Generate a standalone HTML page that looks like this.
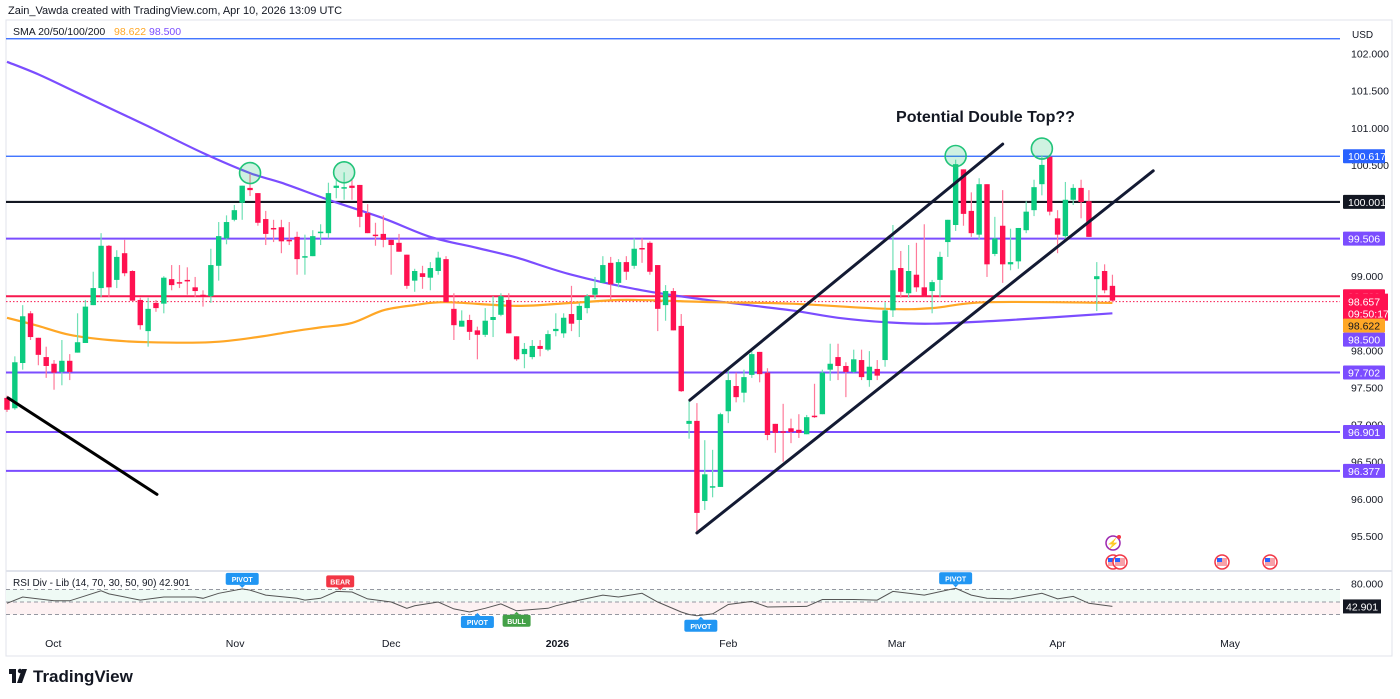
<!DOCTYPE html>
<html><head><meta charset="utf-8">
<style>
html,body{margin:0;padding:0;background:#fff;}
body{width:1400px;height:699px;overflow:hidden;position:relative;font-family:"Liberation Sans",sans-serif;}
svg{position:absolute;left:0;top:0;}
</style></head>
<body>
<svg id="chart" width="1400" height="699" xmlns="http://www.w3.org/2000/svg" font-family="Liberation Sans, sans-serif">
  <rect x="6" y="20" width="1386" height="636" fill="#fff" stroke="#e0e3eb" stroke-width="1"/>
  <line x1="6" y1="571" x2="1392" y2="571" stroke="#e0e3eb" stroke-width="2"/>
  <text x="8" y="14" font-size="11" fill="#131722">Zain_Vawda created with TradingView.com, Apr 10, 2026 13:09 UTC</text>
  <g font-size="10.5">
    <text x="13" y="35" fill="#131722">SMA 20/50/100/200</text>
    <text x="114" y="35" fill="#ffa726">98.622</text>
    <text x="149" y="35" fill="#7b4dff">98.500</text>
  </g>
  <text x="1352" y="38" font-size="10" fill="#131722">USD</text>
  <g id="rsiBg"></g>
  <g id="hlines"></g>
  <g id="smas"></g>
  <g id="candles"></g>
  <g id="drawings"></g>
  <g id="axis"></g>
  <g id="rsi"></g>
  <text x="896" y="122" font-size="16" fill="#131722" font-weight="bold" textLength="179" lengthAdjust="spacingAndGlyphs">Potential Double Top??</text>
  <g>
    <rect x="9" y="669" width="7" height="5" fill="#131722"/><rect x="12" y="669" width="4" height="14" fill="#131722"/>
    <circle cx="20" cy="671" r="2.2" fill="#131722"/><polygon points="22,669 27,669 22,683 17,683" fill="#131722"/>
    <text x="33" y="682" font-size="17" fill="#131722" font-weight="bold">TradingView</text>
  </g>
</svg>
<script>
const opens=[97.36,97.22,97.83,98.50,98.17,97.91,97.82,97.71,97.86,97.97,98.10,98.61,98.84,99.41,98.95,99.31,99.07,98.68,98.26,98.64,98.63,98.96,98.92,98.95,98.85,98.75,98.73,99.14,99.51,99.76,99.99,100.19,100.12,99.77,99.65,99.66,99.49,99.53,99.26,99.27,99.58,99.58,100.19,100.18,100.22,100.23,99.85,99.56,99.57,99.49,99.45,99.29,98.94,99.04,98.98,99.07,99.23,98.56,98.32,98.41,98.27,98.21,98.41,98.48,98.68,98.19,97.95,97.91,98.06,98.01,98.26,98.23,98.49,98.41,98.57,98.75,98.91,99.18,98.91,99.19,99.14,99.38,99.45,99.15,98.61,98.80,98.33,97.01,97.05,95.97,96.16,96.16,97.18,97.52,97.43,97.67,97.98,97.70,97.01,96.91,96.95,96.93,96.87,97.12,97.14,97.74,97.91,97.79,97.71,97.87,97.60,97.75,97.87,98.54,99.11,98.77,99.02,98.85,98.80,98.95,99.46,99.69,100.44,99.88,99.56,100.24,99.30,99.68,99.16,99.20,99.62,99.89,100.24,100.61,99.78,99.54,100.03,100.19,100.01,98.96,99.07,98.87];
const highs=[97.39,97.92,98.61,98.53,98.17,98.05,97.87,98.14,97.95,98.50,98.68,99.06,99.58,99.42,99.35,99.49,99.08,98.71,98.71,98.68,99.00,99.15,99.15,99.12,98.99,98.81,99.37,99.73,99.82,99.96,100.22,100.38,100.12,99.88,99.76,99.76,99.73,99.60,99.56,99.62,99.70,100.26,100.32,100.40,100.30,100.23,99.97,99.72,99.82,99.49,99.57,99.29,99.10,99.14,99.19,99.33,99.27,98.77,98.54,98.48,98.32,98.57,98.73,98.77,98.77,98.19,98.10,98.14,98.14,98.27,98.50,98.50,98.87,98.64,98.76,98.99,99.27,99.26,99.23,99.27,99.51,99.51,99.47,99.15,98.88,98.84,98.49,97.32,97.29,96.79,96.66,97.16,97.74,97.70,97.74,97.99,97.98,97.76,97.01,97.28,97.08,97.14,97.13,97.55,97.74,98.09,98.09,97.84,98.01,98.01,97.99,97.87,98.65,99.69,99.34,99.42,99.45,99.70,98.95,99.33,99.76,100.57,100.44,100.13,100.32,100.24,99.80,100.16,99.64,99.65,100.01,100.30,100.63,100.63,99.89,100.27,100.24,100.30,100.16,99.19,99.16,99.02];
const lows=[97.17,97.20,97.74,98.14,97.80,97.63,97.47,97.53,97.60,97.97,98.10,98.61,98.72,98.72,98.84,99.00,98.67,98.28,98.05,98.52,98.50,98.81,98.84,98.75,98.72,98.59,98.64,98.94,99.43,99.74,99.76,100.08,99.68,99.42,99.46,99.31,99.42,99.02,99.02,99.27,99.42,99.51,100.05,100.03,100.03,99.66,99.58,99.41,99.39,99.02,99.33,98.83,98.79,98.83,98.81,99.02,98.65,98.14,98.32,98.14,97.88,98.18,98.18,98.46,98.23,97.86,97.76,97.88,97.92,97.99,98.19,98.17,98.26,98.18,98.50,98.69,98.91,98.68,98.85,98.95,99.10,99.18,99.02,98.26,98.40,98.27,97.44,96.81,95.54,95.85,96.02,96.16,97.02,97.30,97.30,97.63,97.57,96.79,96.62,96.50,96.75,96.82,96.87,97.09,97.14,97.59,97.60,97.37,97.70,97.60,97.51,97.60,97.78,98.45,98.71,98.71,98.79,98.73,98.50,98.72,99.26,99.61,99.68,99.53,99.49,98.99,99.27,98.91,99.08,99.10,99.58,99.81,100.09,99.82,99.31,99.49,99.96,99.78,99.53,98.53,98.77,98.65];
const closes=[97.20,97.84,98.46,98.18,97.94,97.79,97.70,97.86,97.71,98.11,98.59,98.84,99.41,98.85,99.26,99.04,98.67,98.34,98.56,98.57,98.98,98.88,98.91,98.94,98.80,98.72,99.15,99.54,99.73,99.89,100.22,100.16,99.72,99.57,99.64,99.47,99.47,99.23,99.27,99.54,99.60,100.12,100.22,100.20,100.19,99.80,99.58,99.54,99.49,99.42,99.33,98.87,99.07,98.99,99.11,99.25,98.65,98.34,98.40,98.25,98.21,98.40,98.45,98.73,98.23,97.88,98.02,98.06,98.02,98.22,98.29,98.44,98.36,98.60,98.73,98.84,99.15,98.89,99.19,99.06,99.37,99.37,99.06,98.56,98.80,98.27,97.45,97.05,95.81,96.33,96.17,97.14,97.60,97.37,97.64,97.95,97.68,96.86,96.89,96.90,96.90,96.89,97.10,97.10,97.70,97.82,97.79,97.71,97.88,97.64,97.78,97.66,98.54,99.08,98.79,99.07,98.85,98.73,98.92,99.26,99.76,100.51,99.84,99.58,100.24,99.16,99.51,99.16,99.19,99.65,99.87,100.20,100.50,99.87,99.56,100.03,100.19,100.00,99.53,99.00,98.81,98.67];

const sma200Idx=[0,4,9,14,18,25,31,35,41,48,54,60,65,72,81,90,100,106,112,118,128,141];
const sma200Val=[101.89,101.72,101.47,101.22,101.02,100.66,100.39,100.26,100.03,99.78,99.53,99.38,99.25,99.02,98.81,98.67,98.54,98.44,98.38,98.36,98.41,98.50];
const sma100Idx=[0,4,8,13,18,26,32,36,40,44,48,52,56,65,72,79,90,100,112,118,125,141];
const sma100Val=[98.44,98.33,98.21,98.14,98.11,98.11,98.18,98.25,98.31,98.37,98.54,98.61,98.65,98.60,98.64,98.68,98.65,98.63,98.56,98.57,98.65,98.64];

const rsiIdx=[0,2,6,8,10,12,13,17,20,24,25,27,30,31,33,37,38,40,42,44,46,49,51,52,55,57,59,61,63,65,69,70,73,76,78,81,83,86,87,88,90,92,95,97,102,104,108,111,113,115,117,121,123,125,128,132,134,136,138,141];
const rsiVal=[48,58,52,52,60,68,63,53,58,58,56,64,71,69,61,56,53,56,67,66,55,50,40,44,50,39,34,40,47,36,40,44,53,61,58,64,50,34,30,28,31,46,51,42,43,54,54,53,67,64,61,72,61,56,55,64,55,59,48,43];

const priceTicks=[102,101.5,101,100.5,99,98,97.5,97,96.5,96,95.5];
const monthLabels=["Oct","Nov","Dec","2026","Feb","Mar","Apr","May"];
const monthIdx=[5.9,29.1,49,70.2,92,113.5,134,156];

const levelPrices=[102.2,100.617,100.001,99.506,98.729,97.702,96.901,96.377];
const levelNames=["top-blue-line","resistance-100-617","level-100-001","level-99-506","level-98-729","level-97-702","level-96-901","level-96-377"];
const levelColors=["#2962ff","#2962ff","#131722","#7b4dff","#f7184f","#7b4dff","#7b4dff","#7b4dff"];
const levelWidths=[1.2,1.2,2.2,2,2,2,2,2];
const levelLabels=[null,"100.617","100.001","99.506","98.729","97.702","96.901","96.377"];

const lastPrice=98.657, smaLabel100=98.622, smaLabel200=98.500;

function X(i){return 7+i*7.84;}
function Y(p){return 202-(p-100)*74.2;}
function RY(v){return 602-(v-50)*0.625;}
const NS="http://www.w3.org/2000/svg";
function mk(tag,attrs,parent){const e=document.createElementNS(NS,tag);for(const k in attrs)e.setAttribute(k,attrs[k]);parent.appendChild(e);return e;}

const hl=document.getElementById('hlines');
levelPrices.forEach((p,k)=>{
  const l=mk('line',{x1:6,x2:1340,y1:Y(p),y2:Y(p),stroke:levelColors[k],'stroke-width':levelWidths[k]},hl);
  
  
});
const dl=mk('line',{x1:6,x2:1340,y1:Y(lastPrice),y2:Y(lastPrice),stroke:'#f7184f','stroke-width':1,'stroke-dasharray':'1.5 2'},hl);



function smoothPath(idx,val,fy){
  const P=idx.map((i,k)=>[X(i),fy(val[k])]);
  let d='M'+P[0][0].toFixed(1)+','+P[0][1].toFixed(1);
  for(let k=0;k<P.length-1;k++){
    const p0=P[k-1]||P[k],p1=P[k],p2=P[k+1],p3=P[k+2]||p2;
    const c1=[p1[0]+(p2[0]-p0[0])/6,p1[1]+(p2[1]-p0[1])/6];
    const c2=[p2[0]-(p3[0]-p1[0])/6,p2[1]-(p3[1]-p1[1])/6];
    d+=` C${c1[0].toFixed(1)},${c1[1].toFixed(1)} ${c2[0].toFixed(1)},${c2[1].toFixed(1)} ${p2[0].toFixed(1)},${p2[1].toFixed(1)}`;
  }
  return d;
}
function linePts(idx,val,fy){return idx.map((i,k)=>X(i).toFixed(1)+','+fy(val[k]).toFixed(1)).join(' ');}
const sm=document.getElementById('smas');
const s2=mk('path',{d:smoothPath(sma200Idx,sma200Val,Y),fill:'none',stroke:'#7b4dff','stroke-width':2.2},sm);


const s1=mk('path',{d:smoothPath(sma100Idx,sma100Val,Y),fill:'none',stroke:'#ffa726','stroke-width':2.2},sm);



const cg=document.getElementById('candles');
closes.forEach((c,i)=>{
  const o=opens[i],up=c>=o,col=up?'#0ccb80':'#ff1150',wc=up?'#6fe0b5':'#ff7a9a';
  const g=mk('g',{},cg);
  
  
  mk('line',{x1:X(i),x2:X(i),y1:Y(highs[i]),y2:Y(lows[i]),stroke:wc,'stroke-width':1.2},g);
  const t=Math.min(Y(o),Y(c)),h=Math.max(1.5,Math.abs(Y(o)-Y(c)));
  mk('rect',{x:X(i)-2.7,y:t,width:5.4,height:h,fill:col},g);
});

const dg=document.getElementById('drawings');
const trendA=[[0.13,97.36],[19.13,96.06]];
const chanUp=[[87.1,97.33],[127.0,100.78]];
const chanLo=[[88.0,95.54],[146.2,100.42]];
[[trendA,'#000','downtrend-line'],[chanUp,'#131a33','channel-upper-line'],[chanLo,'#131a33','channel-lower-line']].forEach(([pts,c,n])=>{
  const l=mk('line',{x1:X(pts[0][0]),y1:Y(pts[0][1]),x2:X(pts[1][0]),y2:Y(pts[1][1]),stroke:c,'stroke-width':3,'stroke-linecap':'round'},dg);
  
  
});
const peakIdx=[31,43,121,132];
const peakPrice=[100.39,100.40,100.62,100.72];
peakIdx.forEach((i,k)=>{
  const c=mk('circle',{cx:X(i),cy:Y(peakPrice[k]),r:10.5,fill:'rgba(38,196,120,0.22)',stroke:'#22c47a','stroke-width':1.6},dg);
  
  
});

const ax=document.getElementById('axis');
priceTicks.forEach(p=>{
  const t=mk('text',{x:1351,y:Y(p)+4,'font-size':10.5,fill:'#131722'},ax);
  t.textContent=p.toFixed(3);
  
  
});
function tag(y,txt,bg,name,w,fc){
  const g=mk('g',{},ax);
  
  
  mk('rect',{x:1343,y:y-7,width:w||42,height:14,fill:bg,rx:1},g);
  const t=mk('text',{x:1348,y:y+4,'font-size':10.5,fill:fc||'#fff'},g);
  t.textContent=txt;
}
levelPrices.forEach((p,k)=>{if(levelLabels[k])tag(Y(p),levelLabels[k],levelColors[k]==='#f7184f'?'#ff1150':levelColors[k],'label-'+levelNames[k]);});
{
  const g=mk('g',{},ax);
  
  
  mk('rect',{x:1343,y:Y(lastPrice)-8,width:45,height:27,fill:'#ff1150'},g);
  const t1=mk('text',{x:1348,y:Y(lastPrice)+4,'font-size':10.5,fill:'#fff'},g);t1.textContent=lastPrice.toFixed(3);
  const t2=mk('text',{x:1348,y:Y(lastPrice)+16,'font-size':10.5,fill:'#fff'},g);t2.textContent='09:50:17';
}
tag(Y(lastPrice)+24,smaLabel100.toFixed(3),'#ffa726','sma-100-label',42,'#131722');
tag(Y(lastPrice)+38,smaLabel200.toFixed(3),'#7b4dff','sma-200-label');
monthLabels.forEach((m,k)=>{
  const t=mk('text',{x:X(monthIdx[k]),y:647,'font-size':10.5,fill:'#131722','text-anchor':'middle','font-weight':m==='2026'?'bold':'normal'},ax);
  t.textContent=m;
  
  
});

const rb=document.getElementById('rsiBg');
mk('rect',{x:6,y:RY(70),width:1334,height:RY(50)-RY(70),fill:'#effaf5'},rb);
mk('rect',{x:6,y:RY(50),width:1334,height:RY(30)-RY(50),fill:'#fdf1f2'},rb);
[70,50,30].forEach(v=>{
  const l=mk('line',{x1:6,x2:1340,y1:RY(v),y2:RY(v),stroke:'#9598a1','stroke-width':1,'stroke-dasharray':'4 3'},rb);
  
  
});
const rg=document.getElementById('rsi');
const rl=mk('polyline',{points:linePts(rsiIdx,rsiVal,RY),fill:'none',stroke:'#555','stroke-width':1},rg);


const rt=mk('text',{x:13,y:586,'font-size':10,fill:'#131722'},rg);
rt.textContent='RSI Div - Lib (14, 70, 30, 50, 90)  42.901';


const r80=mk('text',{x:1351,y:RY(80)+4,'font-size':10.5,fill:'#131722'},rg);r80.textContent='80.000';
const lastRsi=42.901;
{
  const g=mk('g',{},rg);
  
  
  mk('rect',{x:1343,y:RY(lastRsi)-7,width:38,height:14,fill:'#131722'},g);
  const t=mk('text',{x:1346,y:RY(lastRsi)+4,'font-size':10.5,fill:'#fff'},g);t.textContent=lastRsi.toFixed(3);
}
const sigIdx=[30,42.5,60,65,88.5,121];
const sigVal=[71,67,34,36,28,72];
const sigTxt=['PIVOT','BEAR','PIVOT','BULL','PIVOT','PIVOT'];
const sigCol=['#2196f3','#f23645','#2196f3','#43a047','#2196f3','#2196f3'];
const sigAbove=[true,true,false,false,false,true];
sigIdx.forEach((i,k)=>{
  const g=mk('g',{},rg);
  
  
  const x=X(i),y=RY(sigVal[k]),w=sigTxt[k].length*5+8;
  const by=sigAbove[k]?y-16:y+4;
  mk('rect',{x:x-w/2,y:by,width:w,height:12,rx:2,fill:sigCol[k]},g);
  mk('polygon',{points:sigAbove[k]?`${x-3},${by+12} ${x+3},${by+12} ${x},${by+15}`:`${x-3},${by} ${x+3},${by} ${x},${by-3}`,fill:sigCol[k]},g);
  const t=mk('text',{x:x,y:by+9,'font-size':7,'font-weight':'bold',fill:'#fff','text-anchor':'middle'},g);
  t.textContent=sigTxt[k];
});

const evX=[1113,1120,1222,1270];
evX.forEach(x=>{
  const g=mk('g',{},rg);
  
  
  mk('circle',{cx:x,cy:562,r:7,fill:'#fff',stroke:'#f23645','stroke-width':1.5},g);
  mk('rect',{x:x-5,y:558,width:10,height:8,fill:'#f7a1a8'},g);
  mk('rect',{x:x-5,y:558,width:5,height:4,fill:'#2962ff'},g);
});
{
  const g=mk('g',{},rg);
  
  
  mk('circle',{cx:1113,cy:543,r:7,fill:'#fff',stroke:'#9c27b0','stroke-width':1.5},g);
  const t=mk('text',{x:1113,y:547,'font-size':10,fill:'#9c27b0','text-anchor':'middle'},g);t.textContent='⚡';
  mk('circle',{cx:1119,cy:537,r:2,fill:'#f23645'},g);
}
</script>
</body></html>
